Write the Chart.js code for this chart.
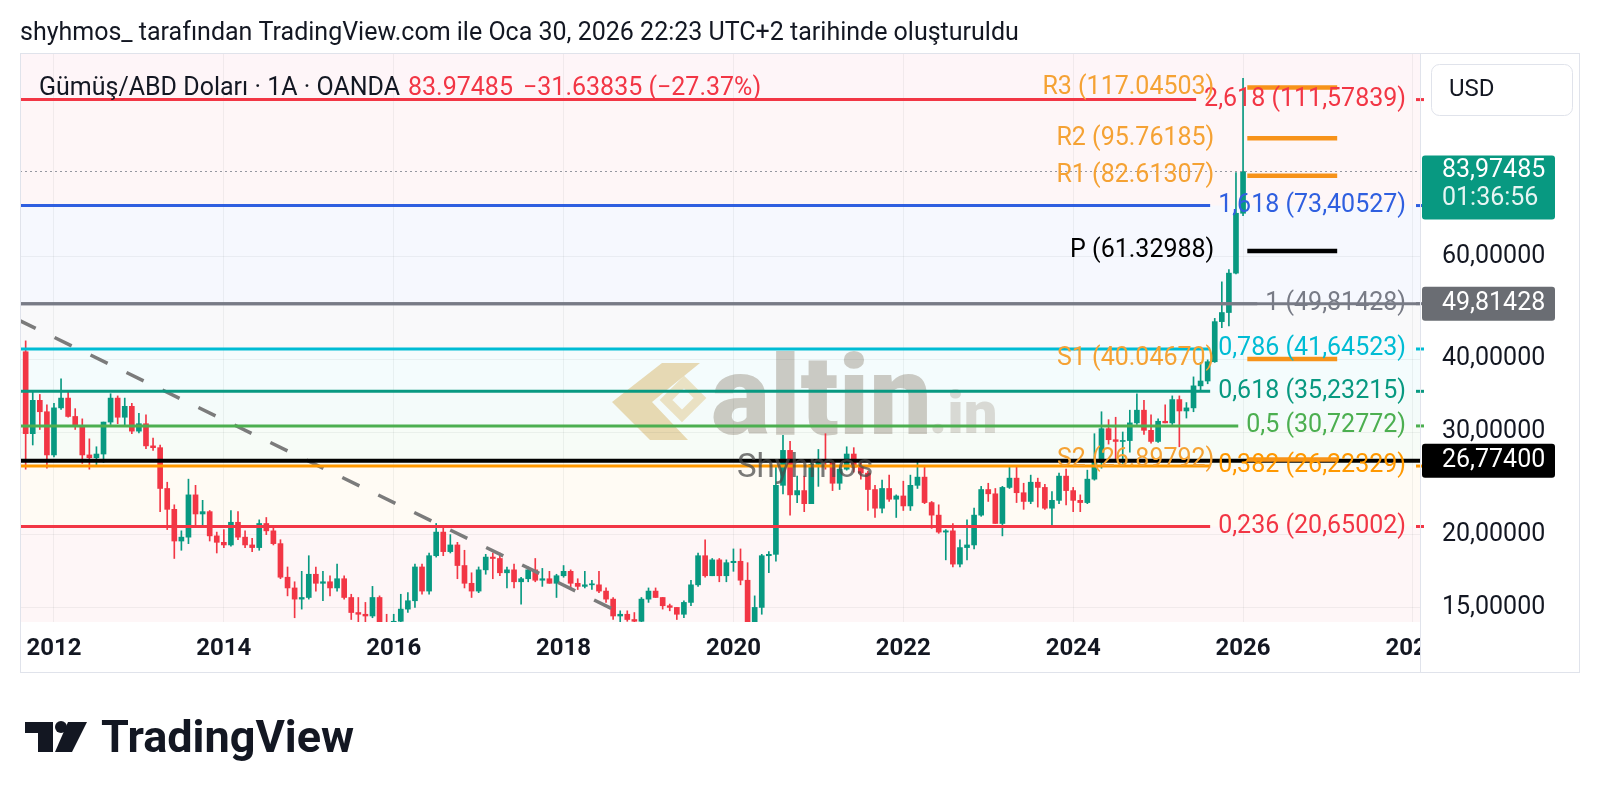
<!DOCTYPE html>
<html>
<head>
<meta charset="utf-8">
<script src="https://cdn.jsdelivr.net/npm/chart.js@4.4.1/dist/chart.umd.min.js"></script>
<style>
  html, body { margin: 0; padding: 0; background: #fff; }
  canvas { display: block; }
</style>
</head>
<body>
<canvas id="chart" width="1600" height="800"></canvas>
<script>
// ---- data (monthly XAG/USD candles, Sep 2011 .. Jan 2026) ----
const firstYear = 2011, firstMonth = 9;

const opens = [
  41.2, 29.8, 34.0, 32.5,
  27.4, 33.0, 34.3, 31.9, 30.7, 27.4, 27.1, 27.5, 31.2, 34.3, 31.8, 33.2,
  30.1, 31.0, 28.4, 28.2, 24.0, 22.1, 19.5, 19.8, 23.4, 21.7, 21.9, 19.9,
  19.4, 19.2, 21.0, 19.8, 19.2, 19.0, 20.9, 20.3, 19.3, 16.9, 16.2, 15.5,
  15.6, 17.1, 16.5, 16.6, 16.2, 16.8, 15.6, 14.7, 14.6, 14.5, 15.6, 14.1,
  13.8, 14.2, 14.9, 15.4, 17.6, 16.0, 18.4, 20.2, 18.7, 19.2, 17.7, 16.5,
  16.0, 17.4, 18.3, 18.2, 17.2, 17.4, 16.6, 16.8, 17.4, 16.7, 16.8, 16.5,
  17.0, 17.3, 16.5, 16.3, 16.4, 16.4, 16.0, 15.5, 14.5, 14.6, 14.3, 14.2,
  15.5, 16.0, 15.6, 15.1, 15.0, 14.6, 15.3, 16.4, 18.4, 17.0, 18.1, 17.0,
  17.9, 18.0, 16.7, 14.0, 15.0, 18.4, 18.5, 24.3, 27.9, 23.4, 23.8, 22.6,
  26.4, 26.9, 26.7, 24.5, 25.9, 27.5, 26.1, 25.5, 23.9, 22.2, 24.0, 23.0,
  23.3, 22.4, 24.3, 25.1, 22.7, 21.6, 20.2, 20.3, 17.8, 19.0, 19.2, 21.6,
  23.9, 23.5, 20.9, 24.1, 25.0, 23.6, 22.8, 24.6, 24.1, 22.2, 22.9, 25.2,
  23.8, 22.9, 22.7, 24.9, 26.6, 30.4, 29.1, 28.9, 29.0, 31.1, 32.7, 30.2,
  28.9, 31.3, 31.1, 34.1, 32.6, 33.0, 36.0, 36.7, 39.6, 46.4, 48.1, 56.2,
  71.2
];
const highs = [
  43.0, 35.2, 34.8, 33.4,
  33.6, 37.0, 35.3, 32.9, 31.6, 29.2, 28.3, 31.2, 34.9, 34.6, 34.3, 33.6,
  32.3, 32.1, 29.3, 28.5, 24.6, 22.5, 20.3, 24.9, 24.3, 22.9, 22.0, 20.2,
  20.4, 22.0, 21.9, 20.3, 19.7, 21.2, 21.4, 20.6, 19.6, 17.6, 16.6, 17.3,
  18.4, 17.6, 17.3, 17.0, 17.8, 17.0, 15.8, 15.6, 15.3, 16.3, 15.7, 14.6,
  14.6, 15.8, 15.9, 17.8, 17.8, 18.6, 20.9, 20.7, 20.0, 19.4, 18.8, 17.2,
  17.6, 18.5, 18.6, 18.6, 17.6, 17.8, 16.9, 17.6, 18.2, 17.5, 17.3, 17.1,
  17.7, 17.4, 16.8, 17.3, 16.7, 17.3, 16.2, 15.6, 14.8, 14.8, 14.7, 15.6,
  16.2, 16.2, 15.6, 15.2, 15.0, 15.4, 16.7, 18.6, 19.6, 18.2, 18.2, 18.1,
  18.9, 18.9, 17.9, 15.7, 18.5, 18.7, 26.2, 29.6, 28.9, 25.2, 25.2, 26.8,
  28.0, 29.8, 26.8, 26.3, 28.3, 28.2, 26.6, 25.7, 24.3, 24.8, 25.3, 23.4,
  24.7, 25.3, 26.9, 26.2, 22.8, 22.5, 20.4, 20.9, 19.6, 21.2, 22.2, 24.2,
  24.5, 24.0, 24.2, 26.1, 26.1, 24.5, 25.3, 25.0, 24.4, 23.7, 25.5, 25.9,
  24.1, 23.4, 25.8, 29.8, 32.5, 31.5, 31.8, 30.0, 32.7, 34.9, 34.0, 32.1,
  31.6, 33.4, 34.6, 34.6, 33.7, 37.3, 39.5, 39.9, 47.0, 54.3, 57.0, 83.6,
  121.4
];
const lows = [
  25.9, 28.5, 30.3, 26.0,
  27.2, 32.8, 31.8, 30.3, 26.5, 25.9, 26.3, 26.6, 30.9, 31.0, 30.7, 29.8,
  29.9, 28.1, 27.9, 21.9, 20.4, 18.2, 18.8, 19.3, 20.6, 20.7, 19.5, 18.6,
  19.0, 19.1, 19.6, 19.0, 18.7, 18.8, 20.0, 19.2, 16.8, 15.7, 14.4, 14.9,
  15.5, 16.0, 15.4, 15.7, 16.0, 15.5, 14.3, 14.0, 14.1, 14.4, 13.9, 13.6,
  13.6, 14.0, 14.7, 15.0, 15.8, 15.8, 18.3, 18.4, 18.6, 16.8, 16.2, 15.6,
  15.9, 17.1, 16.8, 17.0, 16.2, 16.2, 15.2, 16.6, 16.6, 16.3, 16.5, 15.6,
  16.9, 16.1, 16.1, 16.2, 16.1, 15.9, 15.3, 14.3, 13.9, 14.2, 13.9, 14.1,
  15.3, 15.6, 14.9, 14.8, 14.3, 14.4, 15.1, 16.3, 16.9, 17.0, 16.6, 16.6,
  17.3, 16.4, 11.6, 14.0, 14.6, 17.2, 18.0, 23.5, 21.6, 22.7, 21.9, 22.6,
  24.2, 25.9, 23.8, 23.9, 25.8, 25.6, 24.9, 22.0, 21.4, 21.8, 22.8, 21.4,
  22.0, 22.0, 24.0, 22.6, 20.5, 20.1, 18.1, 17.6, 17.6, 18.1, 18.9, 21.5,
  22.8, 20.9, 19.9, 24.0, 22.7, 22.1, 22.6, 22.3, 22.1, 20.7, 22.6, 22.5,
  21.9, 21.9, 22.6, 24.8, 26.0, 28.6, 27.0, 26.5, 27.7, 30.9, 29.7, 28.7,
  28.8, 31.1, 30.9, 28.3, 31.7, 32.5, 35.4, 36.3, 39.5, 45.3, 45.6, 56.0,
  70.5
];
const closes = [
  29.8, 34.0, 32.5, 27.4,
  33.0, 34.3, 31.9, 30.7, 27.4, 27.1, 27.5, 31.2, 34.3, 31.8, 33.2, 30.1,
  31.0, 28.4, 28.2, 24.0, 22.1, 19.5, 19.8, 23.4, 21.7, 21.9, 19.9, 19.4,
  19.2, 21.0, 19.8, 19.2, 19.0, 20.9, 20.3, 19.3, 16.9, 16.2, 15.5, 15.6,
  17.1, 16.5, 16.6, 16.2, 16.8, 15.6, 14.7, 14.6, 14.5, 15.6, 14.1, 13.8,
  14.2, 14.9, 15.4, 17.6, 16.0, 18.4, 20.2, 18.7, 19.2, 17.7, 16.5, 16.0,
  17.4, 18.3, 18.2, 17.2, 17.4, 16.6, 16.8, 17.4, 16.7, 16.8, 16.5, 17.0,
  17.3, 16.5, 16.3, 16.4, 16.4, 16.0, 15.5, 14.5, 14.6, 14.3, 14.2, 15.5,
  16.0, 15.6, 15.1, 15.0, 14.6, 15.3, 16.4, 18.4, 17.0, 18.1, 17.0, 17.9,
  18.0, 16.7, 14.0, 15.0, 18.4, 18.5, 24.3, 27.9, 23.4, 23.8, 22.6, 26.4,
  26.9, 26.7, 24.5, 25.9, 27.5, 26.1, 25.5, 23.9, 22.2, 24.0, 23.0, 23.3,
  22.4, 24.3, 25.1, 22.7, 21.6, 20.2, 20.3, 17.8, 19.0, 19.2, 21.6, 23.9,
  23.5, 20.9, 24.1, 25.0, 23.6, 22.8, 24.6, 24.1, 22.2, 22.9, 25.2, 23.8,
  22.9, 22.7, 24.9, 26.6, 30.4, 29.1, 28.9, 29.0, 31.1, 32.7, 30.2, 28.9,
  31.3, 31.1, 34.1, 32.6, 33.0, 36.0, 36.7, 39.6, 46.4, 48.1, 56.2, 71.2,
  83.97485
];

const yearTicks = ['2012', '2014', '2016', '2018', '2020', '2022', '2024', '2026', '2028'];
const priceTicks = [15, 20, 30, 40, 60];

const fibRatios = ['0,236', '0,382', '0,5', '0,618', '0,786', '1', '1,618', '2,618'];
const fibPrices = [20.65002, 26.22329, 30.72772, 35.23215, 41.64523, 49.81428, 73.40527, 111.57839];

const pivotNames = ['R3', 'R2', 'R1', 'P', 'S1', 'S2'];
const pivotPrices = [117.04503, 95.76185, 82.61307, 61.32988, 40.04670, 26.89792];
const pivotSpan = [168.6, 181.3];            // months since Jan 2012

const hLinePrices = [49.81428, 26.774];
const lastPrice = 83.97485;
const countdown = '01:36:56';

const trendMonths = [-5, 80.3];
const trendPrices = [46.7, 14.63];

// ---- styles ----
const UP = '#089981', DOWN = '#f23645';
const fibColors = ['#f23645', '#ff9800', '#4caf50', '#089981', '#00bcd4', '#787b86', '#2f5fe0', '#f23645'];
const topBandColor = '#e91e63';
const pivotColors = ['#f7931a', '#f7931a', '#f7931a', '#000000', '#f7931a', '#f7931a'];
const pivotTextColors = ['#f5a234', '#f5a234', '#f5a234', '#000000', '#f5a234', '#f5a234'];
const hLineColors = ['#787b86', '#000000'];
const FONT = 'Roboto, "Noto Sans", sans-serif';
const TEXT = '#131722';

const X_MIN = -4.8, X_MAX = 193.0;
const Y_MIN = 14.16, Y_MAX = 133.6;

const start = (firstYear - 2012) * 12 + (firstMonth - 1);
const wicks = highs.map((h, i) => ({ x: start + i, y: [lows[i], h] }));
const bodies = opens.map((o, i) => ({ x: start + i, y: [o, closes[i]] }));
const candleColors = opens.map((o, i) => closes[i] >= o ? UP : DOWN);

const fmt = v => v.toFixed(5).replace('.', ',');
const rgba = (hex, a) => {
  const n = parseInt(hex.slice(1), 16);
  return `rgba(${n >> 16},${(n >> 8) & 255},${n & 255},${a})`;
};
function roundRect(ctx, x, y, w, h, r) {
  ctx.beginPath();
  ctx.moveTo(x + r, y);
  ctx.arcTo(x + w, y, x + w, y + h, r);
  ctx.arcTo(x + w, y + h, x, y + h, r);
  ctx.arcTo(x, y + h, x, y, r);
  ctx.arcTo(x, y, x + w, y, r);
  ctx.closePath();
}

const hLineSets = hLinePrices.map((p, i) => ({
  type: 'line', data: [{ x: X_MIN, y: p }, { x: X_MAX, y: p }],
  borderColor: hLineColors[i], borderWidth: i === 1 ? 4 : 3, pointRadius: 0, order: 1
}));
const pivotSets = pivotPrices.map((p, i) => ({
  type: 'line', data: [{ x: pivotSpan[0], y: p }, { x: pivotSpan[1], y: p }],
  borderColor: pivotColors[i], borderWidth: 4.5, pointRadius: 0, order: 0
}));

const decor = {
  id: 'decor',
  beforeDraw(chart) {
    const { ctx, chartArea: a } = chart;
    const ys = chart.scales.y;
    ctx.save();
    ctx.fillStyle = '#ffffff';
    ctx.fillRect(0, 0, chart.width, chart.height);
    const edges = [ys.min, ...fibPrices, ys.max];
    for (let i = 0; i < edges.length - 1; i++) {
      const y1 = ys.getPixelForValue(edges[i]);
      const y2 = ys.getPixelForValue(edges[i + 1]);
      ctx.fillStyle = rgba(i < fibColors.length ? fibColors[i] : topBandColor, 0.045);
      ctx.fillRect(a.left, y2, a.right - a.left, y1 - y2);
    }
    // altin.in watermark
    ctx.fillStyle = 'rgba(212,176,92,0.45)';
    ctx.beginPath();
    ctx.moveTo(662, 363); ctx.lineTo(700, 363); ctx.lineTo(652, 402);
    ctx.lineTo(688, 440); ctx.lineTo(650, 440); ctx.lineTo(612, 402);
    ctx.closePath(); ctx.fill();
    ctx.strokeStyle = 'rgba(226,204,150,0.55)';
    ctx.lineWidth = 9;
    ctx.beginPath();
    ctx.moveTo(684, 382); ctx.lineTo(700, 398); ctx.lineTo(682, 416); ctx.lineTo(666, 400);
    ctx.closePath(); ctx.stroke();
    ctx.textBaseline = 'alphabetic';
    ctx.textAlign = 'left';
    ctx.fillStyle = 'rgba(150,142,126,0.45)';
    ctx.font = `900 111px ${FONT}`;
    ctx.fillText('altin', 711, 434);
    ctx.fillStyle = 'rgba(170,164,150,0.38)';
    ctx.font = `900 60px ${FONT}`;
    ctx.fillText('.in', 929, 433);
    ctx.restore();
  },
  afterDatasetsDraw(chart) {
    const { ctx, chartArea: a } = chart;
    const ys = chart.scales.y, xs = chart.scales.x;
    ctx.save();
    ctx.textBaseline = 'middle';
    // fib levels
    ctx.font = `25px ${FONT}`;
    fibPrices.forEach((p, i) => {
      const y = ys.getPixelForValue(p);
      const label = `${fibRatios[i]} (${fmt(p)})`;
      const right = a.right - 14;
      const left = right - ctx.measureText(label).width;
      ctx.strokeStyle = fibColors[i];
      ctx.lineWidth = 3;
      ctx.beginPath(); ctx.moveTo(a.left, y); ctx.lineTo(left - 8, y); ctx.stroke();
      ctx.beginPath(); ctx.moveTo(a.right - 4, y); ctx.lineTo(a.right + 4, y); ctx.stroke();
      ctx.fillStyle = fibColors[i];
      ctx.textAlign = 'right';
      ctx.fillText(label, right, y);
    });
    // pivot labels
    ctx.font = `25px ${FONT}`;
    const pRight = xs.getPixelForValue(pivotSpan[0]) - 33;
    pivotPrices.forEach((p, i) => {
      ctx.fillStyle = pivotTextColors[i];
      ctx.textAlign = 'right';
      ctx.fillText(`${pivotNames[i]} (${p.toFixed(5)})`, pRight, ys.getPixelForValue(p));
    });
    ctx.font = `33px ${FONT}`;
    ctx.textAlign = 'left';
    ctx.fillStyle = 'rgba(70,70,70,0.72)';
    ctx.fillText('Shyhmos', 737, 469);
    ctx.restore();
  },
  afterDraw(chart) {
    const { ctx, chartArea: a } = chart;
    const ys = chart.scales.y;
    ctx.save();
    // clip the x labels that run under the price scale
    ctx.fillStyle = '#ffffff';
    ctx.fillRect(a.right + 1, a.bottom + 1, chart.width - a.right, 60);
    // frame
    ctx.strokeStyle = '#e0e3eb';
    ctx.lineWidth = 1;
    ctx.strokeRect(20.5, 53.5, 1559, 619);
    ctx.beginPath(); ctx.moveTo(a.right + 0.5, 53); ctx.lineTo(a.right + 0.5, 673); ctx.stroke();
    // USD box
    roundRect(ctx, 1431.5, 64.5, 141, 51, 8);
    ctx.fillStyle = '#ffffff'; ctx.fill(); ctx.stroke();
    ctx.fillStyle = TEXT;
    ctx.font = `24px ${FONT}`;
    ctx.textBaseline = 'middle';
    ctx.textAlign = 'left';
    ctx.fillText('USD', 1449, 90);
    // price labels on the scale
    ctx.font = `25px ${FONT}`;
    const yl = ys.getPixelForValue(lastPrice);
    roundRect(ctx, 1422, yl - 16, 133, 64, 3);
    ctx.fillStyle = UP; ctx.fill();
    ctx.fillStyle = '#ffffff';
    ctx.fillText(fmt(lastPrice), 1442, yl - 1);
    ctx.fillStyle = 'rgba(255,255,255,0.9)';
    ctx.fillText(countdown, 1442, yl + 27);
    hLinePrices.forEach((p, i) => {
      const y = ys.getPixelForValue(p);
      roundRect(ctx, 1422, y - 17, 133, 34, 3);
      ctx.fillStyle = i === 0 ? '#6a6d73' : '#000000'; ctx.fill();
      ctx.fillStyle = '#ffffff';
      ctx.fillText(fmt(p), 1442, y);
    });
    // header and legend
    ctx.fillStyle = TEXT;
    ctx.font = `25px ${FONT}`;
    ctx.fillText('shyhmos_ tarafından TradingView.com ile Oca 30, 2026 22:23 UTC+2 tarihinde oluşturuldu', 20, 34);
    ctx.fillText('Gümüş/ABD Doları · 1A · OANDA', 39, 89);
    ctx.fillStyle = DOWN;
    ctx.fillText('83.97485', 408, 89);
    ctx.fillText('−31.63835 (−27.37%)', 523, 89);
    // TradingView logo
    ctx.fillStyle = TEXT;
    ctx.fillRect(25, 722, 28, 11);
    ctx.fillRect(38, 722, 15, 30);
    ctx.beginPath(); ctx.arc(61, 727, 6, 0, Math.PI * 2); ctx.fill();
    ctx.beginPath();
    ctx.moveTo(68, 722); ctx.lineTo(87, 722); ctx.lineTo(72, 752); ctx.lineTo(55, 752);
    ctx.closePath(); ctx.fill();
    ctx.font = `bold 45px ${FONT}`;
    ctx.textBaseline = 'alphabetic';
    ctx.fillText('TradingView', 101, 752);
    ctx.restore();
  }
};

new Chart(document.getElementById('chart'), {
  type: 'bar',
  data: {
    datasets: [
      ...pivotSets,
      ...hLineSets,
      { type: 'line', data: [{ x: X_MIN, y: lastPrice }, { x: X_MAX, y: lastPrice }],
        borderColor: '#9598a1', borderWidth: 1, borderDash: [2, 3], pointRadius: 0, order: 2 },
      { type: 'line', data: trendMonths.map((m, i) => ({ x: m, y: trendPrices[i] })),
        borderColor: '#7b7b7b', borderWidth: 3.5, borderDash: [19, 21], pointRadius: 0, order: 3 },
      { data: bodies, backgroundColor: candleColors, barThickness: 5, grouped: false, minBarLength: 1, order: 10 },
      { data: wicks, backgroundColor: candleColors, barThickness: 1, grouped: false, minBarLength: 1, order: 11 }
    ]
  },
  options: {
    responsive: false,
    animation: false,
    devicePixelRatio: 1,
    events: [],
    layout: { padding: { left: 20, top: 54, right: 0, bottom: 128 } },
    plugins: { legend: { display: false }, tooltip: { enabled: false } },
    scales: {
      x: {
        type: 'linear', min: X_MIN, max: X_MAX, offset: false,
        afterBuildTicks: s => { s.ticks = yearTicks.map(t => ({ value: (Number(t) - 2012) * 12 })); },
        afterFit: s => { s.height = 50; s.paddingLeft = 0; s.paddingRight = 0; },
        ticks: {
          callback: (v, i) => yearTicks[i], autoSkip: false, maxRotation: 0, padding: 13,
          color: TEXT, font: { family: FONT, size: 24, weight: 'bold' }
        },
        grid: { color: 'rgba(42,46,57,0.06)', drawTicks: false, offset: false },
        border: { display: false }
      },
      y: {
        type: 'logarithmic', position: 'right', min: Y_MIN, max: Y_MAX,
        afterBuildTicks: s => { s.ticks = priceTicks.map(v => ({ value: v })); },
        afterFit: s => { s.width = 180; s.paddingTop = 0; s.paddingBottom = 0; },
        ticks: {
          callback: v => fmt(v), autoSkip: false, padding: 22,
          color: TEXT, font: { family: FONT, size: 25 }
        },
        grid: { color: 'rgba(42,46,57,0.06)', drawTicks: false },
        border: { display: false }
      }
    }
  },
  plugins: [decor]
});
</script>
</body>
</html>
